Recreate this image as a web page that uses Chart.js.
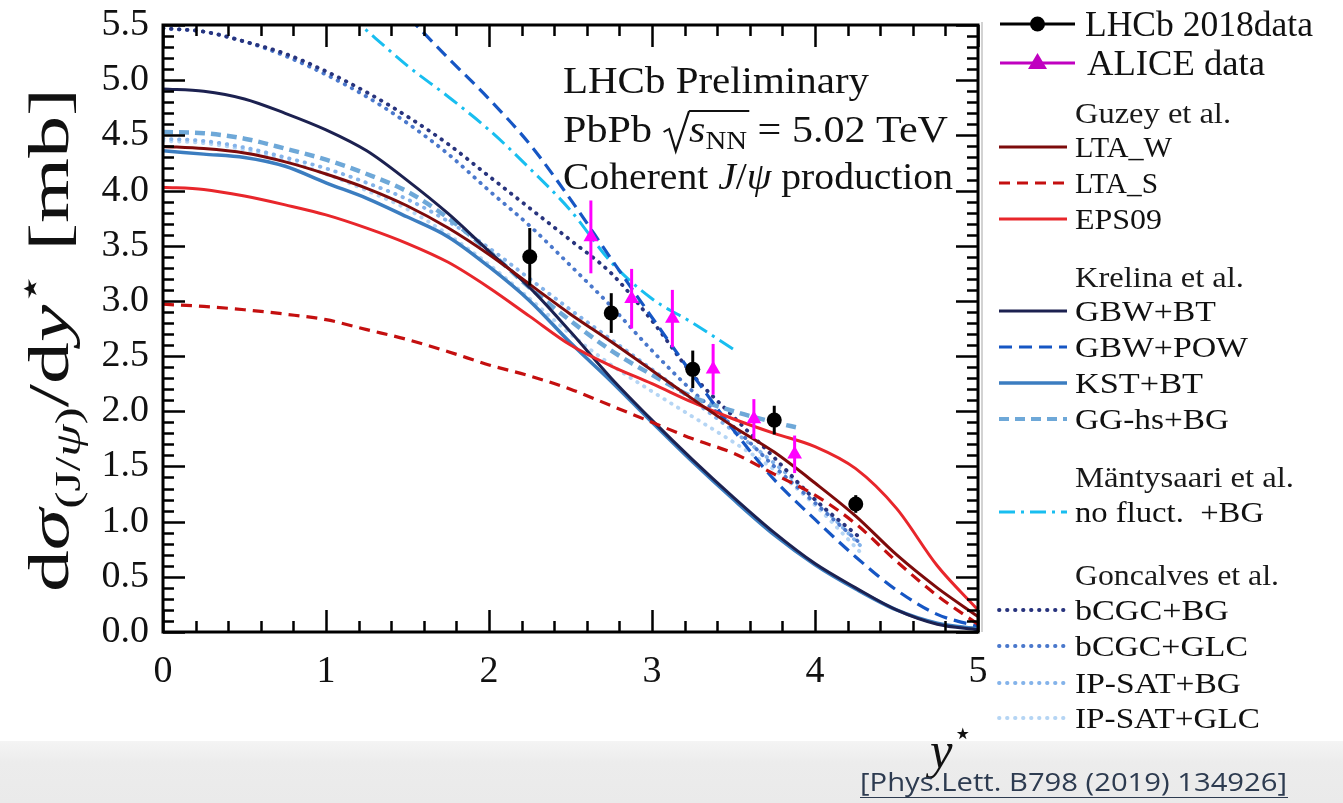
<!DOCTYPE html>
<html>
<head>
<meta charset="utf-8">
<script src="https://cdn.jsdelivr.net/npm/chart.js@4.4.1/dist/chart.umd.min.js"></script>
<style>
  html, body { margin: 0; padding: 0; background: #fff; }
  canvas { display: block; }
</style>
</head>
<body>
<canvas id="jpsi_chart" width="1343" height="803"></canvas>
<script>
// rapidity grid shared by the full-range model curves
const yStar = [0, 0.25, 0.5, 0.75, 1, 1.25, 1.5, 1.75, 2, 2.25, 2.5, 2.75, 3, 3.25, 3.5, 3.75, 4, 4.25, 4.5, 4.75, 5];

// Guzey et al.
const ltaW  = [4.40, 4.38, 4.34, 4.26, 4.15, 4.02, 3.86, 3.66, 3.42, 3.15, 2.88, 2.63, 2.37, 2.11, 1.86, 1.63, 1.35, 1.05, 0.70, 0.40, 0.14];
const ltaS  = [2.97, 2.95, 2.92, 2.88, 2.83, 2.74, 2.65, 2.54, 2.42, 2.32, 2.20, 2.05, 1.90, 1.75, 1.62, 1.43, 1.24, 0.98, 0.64, 0.33, 0.07];
const eps09 = [4.03, 4.01, 3.95, 3.87, 3.78, 3.66, 3.52, 3.35, 3.12, 2.86, 2.60, 2.41, 2.25, 2.08, 1.93, 1.80, 1.68, 1.48, 1.12, 0.60, 0.20];

// Krelina et al.
const gbwBT = [4.92, 4.90, 4.83, 4.70, 4.55, 4.36, 4.09, 3.79, 3.45, 3.12, 2.72, 2.30, 1.92, 1.56, 1.22, 0.90, 0.62, 0.40, 0.20, 0.07, 0.02];
const kstBT = [4.36, 4.33, 4.30, 4.22, 4.07, 3.93, 3.76, 3.58, 3.31, 3.00, 2.62, 2.27, 1.90, 1.54, 1.20, 0.88, 0.61, 0.39, 0.20, 0.08, 0.03];
const xPow   = [1.25, 1.5, 1.75, 2, 2.25, 2.5, 2.75, 3, 3.25, 3.5, 3.75, 4, 4.25, 4.5, 4.75, 5];
const gbwPOW = [5.95, 5.58, 5.20, 4.83, 4.42, 3.92, 3.38, 2.85, 2.33, 1.83, 1.38, 1.02, 0.68, 0.38, 0.16, 0.05];
const xGG   = [0, 0.25, 0.5, 0.75, 1, 1.25, 1.5, 1.75, 2, 2.25, 2.5, 2.75, 3, 3.25, 3.5, 3.75, 3.9];
const ggBG  = [4.53, 4.52, 4.47, 4.38, 4.28, 4.15, 3.99, 3.75, 3.45, 3.12, 2.82, 2.55, 2.33, 2.13, 2.00, 1.90, 1.85];

// Mantysaari et al.
const xMS     = [1, 1.25, 1.5, 1.75, 2, 2.25, 2.5, 2.75, 3, 3.25, 3.5];
const noFluct = [5.78, 5.45, 5.13, 4.85, 4.55, 4.20, 3.82, 3.35, 3.02, 2.80, 2.56];

// Goncalves et al.
const xGonc   = [0, 0.25, 0.5, 0.75, 1, 1.25, 1.5, 1.75, 2, 2.25, 2.5, 2.75, 3, 3.25, 3.5, 3.75, 4, 4.28];
const bcgcBG  = [5.47, 5.44, 5.35, 5.24, 5.08, 4.89, 4.67, 4.42, 4.13, 3.84, 3.55, 3.25, 2.82, 2.33, 1.95, 1.58, 1.20, 0.85];
const bcgcGLC = [5.47, 5.44, 5.35, 5.22, 5.05, 4.85, 4.61, 4.33, 4.00, 3.68, 3.32, 2.95, 2.55, 2.18, 1.86, 1.50, 1.17, 0.80];
const ipsatBG = [4.47, 4.45, 4.39, 4.30, 4.20, 4.07, 3.92, 3.72, 3.48, 3.20, 2.92, 2.65, 2.38, 2.10, 1.82, 1.53, 1.20, 0.78];
const ipsatGLC= [4.45, 4.43, 4.37, 4.27, 4.15, 4.00, 3.83, 3.60, 3.33, 3.02, 2.70, 2.42, 2.18, 1.95, 1.72, 1.47, 1.15, 0.72];

// measurements
const lhcbY     = [2.25, 2.75, 3.25, 3.75, 4.25];
const lhcbSigma = [3.40, 2.89, 2.38, 1.92, 1.16];
const lhcbErr   = [0.26, 0.18, 0.17, 0.13, 0.08];
const aliceY     = [2.625, 2.875, 3.125, 3.375, 3.625, 3.875];
const aliceSigma = [3.58, 3.02, 2.84, 2.38, 1.93, 1.61];
const aliceErr   = [0.33, 0.27, 0.26, 0.23, 0.18, 0.17];

const yTicks = [0, 0.5, 1, 1.5, 2, 2.5, 3, 3.5, 4, 4.5, 5, 5.5];
const xTicks = [0, 1, 2, 3, 4, 5];

const SERIF = "'Liberation Serif', 'DejaVu Serif', serif";
const pts = (xs, ys) => xs.map((x, i) => ({ x: x, y: ys[i] }));

function curve(label, xs, ys, color, width, dash, cap) {
  return {
    label: label,
    data: pts(xs, ys),
    showLine: true,
    borderColor: color,
    borderWidth: width,
    borderDash: dash || [],
    borderCapStyle: cap || 'butt',
    pointRadius: 0,
    cubicInterpolationMode: 'monotone',
    clip: 0,
    fill: false
  };
}

const dotted = [0.5, 7.5];

const datasets = [
  { label: 'LHCb 2018data', data: pts(lhcbY, lhcbSigma), pointStyle: 'circle', pointRadius: 7.5,
    backgroundColor: '#000', borderColor: '#000', borderWidth: 0, showLine: false, errs: lhcbErr },
  { label: 'ALICE data', data: pts(aliceY, aliceSigma), pointStyle: 'triangle', pointRadius: 8.5,
    backgroundColor: '#ff00ff', borderColor: '#ff00ff', borderWidth: 0, showLine: false, errs: aliceErr },
  curve('LTA_W', yStar, ltaW, '#7d0b0b', 3),
  curve('EPS09', yStar, eps09, '#e8262b', 3),
  curve('LTA_S', yStar, ltaS, '#c40f0f', 3.2, [11, 7]),
  curve('GBW+BT', yStar, gbwBT, '#1c2150', 3),
  curve('KST+BT', yStar, kstBT, '#3b7dc0', 3.5),
  curve('GBW+POW', xPow, gbwPOW, '#1656c4', 3.2, [13, 7]),
  curve('GG-hs+BG', xGG, ggBG, '#6ea8d8', 4.5, [10, 6]),
  curve('no fluct. +BG', xMS, noFluct, '#18bef0', 3, [16, 6, 3, 6]),
  curve('bCGC+BG', xGonc, bcgcBG, '#28347e', 3.8, dotted, 'round'),
  curve('bCGC+GLC', xGonc, bcgcGLC, '#4a78cc', 3.8, dotted, 'round'),
  curve('IP-SAT+BG', xGonc, ipsatBG, '#84b3ea', 3.8, dotted, 'round'),
  curve('IP-SAT+GLC', xGonc, ipsatGLC, '#b5d5f4', 3.8, dotted, 'round')
];

// draw a run of text pieces (mixed fonts, sub/superscripts), optionally stretched to a width
function drawRuns(ctx, pieces, x, y, fitWidth, color) {
  let total = 0;
  pieces.forEach(p => {
    ctx.font = p.f;
    p.w = p.rad ? p.rad : ctx.measureText(p.t).width;
    total += p.w;
  });
  const sx = fitWidth ? fitWidth / total : 1;
  ctx.save();
  ctx.translate(x, y);
  ctx.scale(sx, 1);
  ctx.textAlign = 'left';
  ctx.textBaseline = 'alphabetic';
  ctx.fillStyle = color || '#111';
  ctx.strokeStyle = color || '#111';
  let cx = 0, barFrom = null;
  pieces.forEach(p => {
    if (p.rad) {
      ctx.beginPath();
      ctx.lineWidth = 2;
      ctx.moveTo(cx + 1, -10);
      ctx.lineTo(cx + 6, -13);
      ctx.lineTo(cx + 12, 9);
      ctx.lineTo(cx + p.w, -31);
      ctx.stroke();
      barFrom = cx + p.w;
    } else {
      ctx.font = p.f;
      ctx.fillText(p.t, cx, p.dy || 0);
    }
    cx += p.w;
    if (p.endBar && barFrom !== null) {
      ctx.beginPath();
      ctx.lineWidth = 2;
      ctx.moveTo(barFrom, -31);
      ctx.lineTo(cx + 2, -31);
      ctx.stroke();
      barFrom = null;
    }
  });
  ctx.restore();
}

const f = (size, style) => (style ? style + ' ' : '') + size + 'px ' + SERIF;

// legend rows: sample style + label
const legendRows = [
  { y: 24, label: 'LHCb 2018data', w: 228, size: 35, marker: 'circle', color: '#000', x0: 1000, x1: 1075, tx: 1085 },
  { y: 63, label: 'ALICE data', w: 178, size: 35, marker: 'triangle', color: '#c000c0', x0: 1000, x1: 1075, tx: 1087 },
  { y: 113, label: 'Guzey et al.', w: 156, head: true },
  { y: 147, label: 'LTA_W', w: 97, ds: 'LTA_W' },
  { y: 183, label: 'LTA_S', w: 83, ds: 'LTA_S' },
  { y: 219, label: 'EPS09', w: 87, ds: 'EPS09' },
  { y: 277, label: 'Krelina et al.', w: 169, head: true },
  { y: 311, label: 'GBW+BT', w: 141, ds: 'GBW+BT' },
  { y: 347, label: 'GBW+POW', w: 173, ds: 'GBW+POW' },
  { y: 383, label: 'KST+BT', w: 128, ds: 'KST+BT' },
  { y: 419, label: 'GG-hs+BG', w: 154, ds: 'GG-hs+BG' },
  { y: 477, label: 'Mäntysaari et al.', w: 219, head: true },
  { y: 512, label: 'no fluct.  +BG', w: 189, ds: 'no fluct. +BG' },
  { y: 575, label: 'Goncalves et al.', w: 204, head: true },
  { y: 610, label: 'bCGC+BG', w: 154, ds: 'bCGC+BG' },
  { y: 646, label: 'bCGC+GLC', w: 173, ds: 'bCGC+GLC' },
  { y: 683, label: 'IP-SAT+BG', w: 166, ds: 'IP-SAT+BG' },
  { y: 718, label: 'IP-SAT+GLC', w: 185, ds: 'IP-SAT+GLC' }
];

const decorations = {
  id: 'decorations',
  beforeDraw(chart) {
    const ctx = chart.ctx;
    ctx.save();
    // grey slide strip at the bottom
    const g = ctx.createLinearGradient(0, 741, 0, 803);
    g.addColorStop(0, '#f4f4f4');
    g.addColorStop(0.35, '#ececec');
    g.addColorStop(1, '#eaeaea');
    ctx.fillStyle = g;
    ctx.fillRect(0, 741, 1343, 62);
    // thin grey edge to the right of the frame
    ctx.strokeStyle = '#c4c4c4';
    ctx.lineWidth = 1.5;
    ctx.beginPath();
    ctx.moveTo(982, 22);
    ctx.lineTo(982, 632);
    ctx.stroke();
    ctx.restore();
  },
  afterDatasetsDraw(chart) {
    const ctx = chart.ctx;
    const xs = chart.scales.x, ys = chart.scales.y;
    ctx.save();
    // error bars
    chart.data.datasets.forEach(ds => {
      if (!ds.errs) return;
      ctx.strokeStyle = ds.borderColor;
      ctx.lineWidth = 3;
      ds.data.forEach((p, i) => {
        const px = xs.getPixelForValue(p.x);
        ctx.beginPath();
        ctx.moveTo(px, ys.getPixelForValue(p.y - ds.errs[i]));
        ctx.lineTo(px, ys.getPixelForValue(p.y + ds.errs[i]));
        ctx.stroke();
      });
    });
    ctx.restore();
  },
  afterDraw(chart) {
    const ctx = chart.ctx;
    const a = chart.chartArea;
    const xs = chart.scales.x, ys = chart.scales.y;
    ctx.save();
    ctx.strokeStyle = '#000';
    // inward ticks on all four sides
    ctx.lineWidth = 2.5;
    for (let i = 0; i <= 55; i++) {
      const v = i / 10;
      const py = Math.round(ys.getPixelForValue(v)) + 0.5;
      const len = i % 5 === 0 ? 22 : 11;
      ctx.beginPath();
      ctx.moveTo(a.left, py); ctx.lineTo(a.left + len, py);
      ctx.moveTo(a.right, py); ctx.lineTo(a.right - len, py);
      ctx.stroke();
    }
    for (let i = 0; i <= 25; i++) {
      const v = i / 5;
      const px = Math.round(xs.getPixelForValue(v)) + 0.5;
      const len = i % 5 === 0 ? 22 : 11;
      ctx.beginPath();
      ctx.moveTo(px, a.bottom); ctx.lineTo(px, a.bottom - len);
      ctx.moveTo(px, a.top); ctx.lineTo(px, a.top + len);
      ctx.stroke();
    }
    // frame
    ctx.lineWidth = 3;
    ctx.strokeRect(a.left, a.top, a.right - a.left, a.bottom - a.top);

    // in-plot labels
    drawRuns(ctx, [{ t: 'LHCb Preliminary', f: f(38) }], 563, 93, 306);
    drawRuns(ctx, [
      { t: 'PbPb ', f: f(38) },
      { rad: 24 },
      { t: 's', f: f(38, 'italic') },
      { t: 'NN', f: f(26), dy: 7, endBar: true },
      { t: ' = 5.02 TeV', f: f(38) }
    ], 563, 142, 385);
    drawRuns(ctx, [
      { t: 'Coherent ', f: f(38) },
      { t: 'J', f: f(38, 'italic') },
      { t: '/', f: f(38) },
      { t: 'ψ', f: f(38, 'italic') },
      { t: ' production', f: f(38) }
    ], 563, 189, 390);

    // y axis title, rotated
    ctx.save();
    ctx.translate(68, 592);
    ctx.rotate(-Math.PI / 2);
    drawRuns(ctx, [
      { t: 'd', f: f(58) },
      { t: 'σ', f: f(58, 'italic') },
      { t: '(J/', f: f(36), dy: 12 },
      { t: 'ψ', f: f(36, 'italic'), dy: 12 },
      { t: ')', f: f(36), dy: 12 },
      { t: '/d', f: f(58) },
      { t: 'y', f: f(58, 'italic') },
      { t: '⋆', f: f(36), dy: -26 },
      { t: ' [mb]', f: f(58) }
    ], 0, 0, 504);
    ctx.restore();

    // x axis title
    drawRuns(ctx, [
      { t: 'y', f: f(52, 'italic') },
      { t: '⋆', f: f(32), dy: -24 }
    ], 930, 768, 42);

    // legend
    const byLabel = {};
    chart.data.datasets.forEach(ds => { byLabel[ds.label] = ds; });
    legendRows.forEach(r => {
      if (r.head) {
        drawRuns(ctx, [{ t: r.label, f: f(30) }], 1075, r.y + 10, r.w, '#1a1a1a');
        return;
      }
      if (r.marker) {
        ctx.strokeStyle = r.color;
        ctx.fillStyle = r.color;
        ctx.lineWidth = 3;
        ctx.setLineDash([]);
        ctx.beginPath();
        ctx.moveTo(r.x0, r.y); ctx.lineTo(r.x1, r.y);
        ctx.stroke();
        const mx = (r.x0 + r.x1) / 2;
        ctx.beginPath();
        if (r.marker === 'circle') {
          ctx.arc(mx, r.y, 7.5, 0, Math.PI * 2);
        } else {
          ctx.moveTo(mx, r.y - 10); ctx.lineTo(mx + 9.5, r.y + 6); ctx.lineTo(mx - 9.5, r.y + 6);
          ctx.closePath();
        }
        ctx.fill();
        drawRuns(ctx, [{ t: r.label, f: f(35) }], r.tx, r.y + 12, r.w);
        return;
      }
      const ds = byLabel[r.ds];
      ctx.strokeStyle = ds.borderColor;
      ctx.lineWidth = Math.min(ds.borderWidth, 4);
      ctx.lineCap = ds.borderCapStyle;
      ctx.setLineDash(ds.borderDash);
      ctx.beginPath();
      ctx.moveTo(999, r.y); ctx.lineTo(1067, r.y);
      ctx.stroke();
      ctx.setLineDash([]);
      ctx.lineCap = 'butt';
      drawRuns(ctx, [{ t: r.label, f: f(30) }], 1075, r.y + 10, r.w);
    });

    // reference line at the bottom
    drawRuns(ctx, [{ t: '[Phys.Lett. B798 (2019) 134926]', f: "25px 'Open Sans', 'Liberation Sans', sans-serif" }],
      860, 791, 427, '#2d3b50');
    ctx.strokeStyle = '#2d3b50';
    ctx.lineWidth = 1.2;
    ctx.beginPath();
    ctx.moveTo(860, 797.5); ctx.lineTo(1288, 797.5);
    ctx.stroke();
    ctx.restore();
  }
};

new Chart(document.getElementById('jpsi_chart'), {
  type: 'scatter',
  data: { datasets: datasets },
  options: {
    responsive: false,
    animation: false,
    devicePixelRatio: 1,
    layout: { padding: { top: 25, right: 365, bottom: 0, left: 0 } },
    plugins: { legend: { display: false }, tooltip: { enabled: false } },
    scales: {
      x: {
        type: 'linear', min: 0, max: 5,
        grid: { display: false, drawTicks: false },
        border: { display: false },
        afterBuildTicks: s => { s.ticks = xTicks.map(v => ({ value: v })); },
        ticks: { autoSkip: false, maxRotation: 0, padding: 17, color: '#111',
                 font: { family: SERIF, size: 38 }, callback: v => String(v) },
        afterFit: s => { s.height = 171; s.paddingLeft = 0; s.paddingRight = 0; }
      },
      y: {
        type: 'linear', min: 0, max: 5.5,
        grid: { display: false, drawTicks: false },
        border: { display: false },
        afterBuildTicks: s => { s.ticks = yTicks.map(v => ({ value: v })); },
        ticks: { autoSkip: false, padding: 14, color: '#111',
                 font: { family: SERIF, size: 38 }, callback: v => Number(v).toFixed(1) },
        afterFit: s => { s.width = 163; s.paddingTop = 0; s.paddingBottom = 0; }
      }
    }
  },
  plugins: [decorations]
});
</script>
</body>
</html>
